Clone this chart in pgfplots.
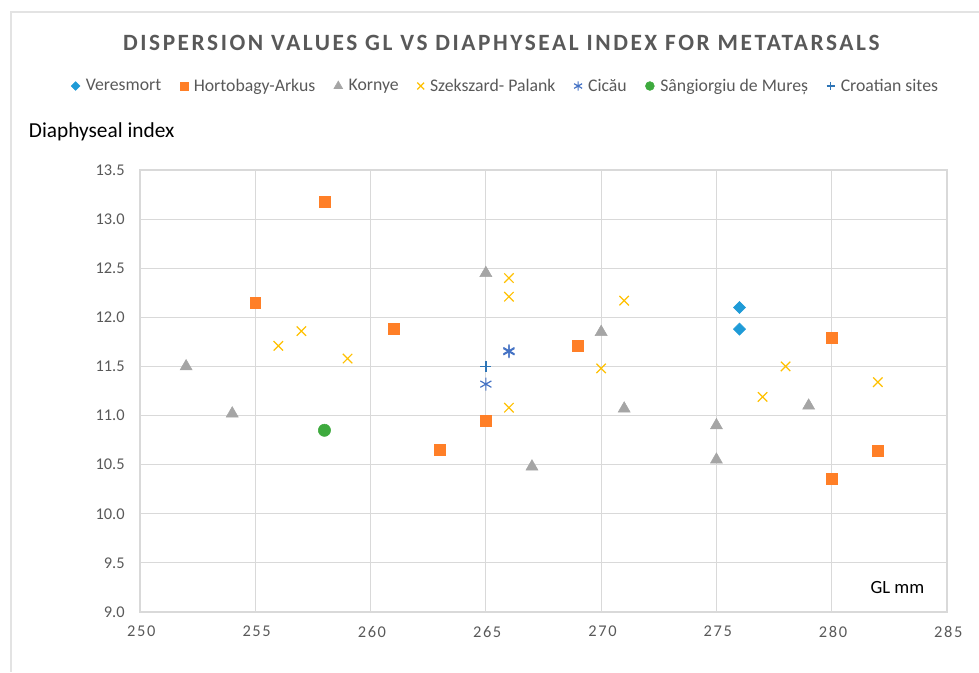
\documentclass[border=0pt]{standalone}
\usepackage{pgfplots}
\pgfplotsset{compat=1.18}
\usepackage{fontspec}
\setmainfont{Carlito}
\definecolor{cVer}{HTML}{1F9BD7}
\definecolor{cHor}{HTML}{FF7F27}
\definecolor{cKor}{HTML}{A5A5A5}
\definecolor{cSze}{HTML}{FFC000}
\definecolor{cCic}{HTML}{4472C4}
\definecolor{cSan}{HTML}{3EAA3E}
\definecolor{cCro}{HTML}{2E75B6}
\definecolor{gridc}{HTML}{D9D9D9}
\definecolor{framec}{HTML}{E3E3E3}
\definecolor{txt}{HTML}{595959}
\begin{document}
\begin{tikzpicture}
\path[use as bounding box] (0,0) rectangle (734.25pt,504pt);
\draw[framec, line width=0.8pt] (8.25pt,0pt) -- (8.25pt,495pt) -- (734.25pt,495pt);
\begin{axis}[
  at={(105pt,45pt)}, anchor=south west,
  scale only axis, width=605.25pt, height=331.5pt,
  xmin=250, xmax=285, ymin=9, ymax=13.5,
  xtick={250,255,...,285}, ytick={9,9.5,...,13.5},
  grid=major, major grid style={gridc, line width=0.8pt},
  axis line style={gridc, line width=0.8pt},
  tick style={draw=none},
  tick label style={font=\fontsize{12.3}{14}\selectfont, text=txt},
  /pgf/number format/assume math mode=true,
  yticklabel style={xshift=-8pt, /pgf/number format/.cd, fixed, fixed zerofill, precision=1},
  xticklabel style={yshift=-7pt, xshift=1pt, font=\fontsize{12.3}{14}\selectfont\addfontfeatures{LetterSpace=10}, /pgf/number format/.cd, fixed, precision=0},
  legend style={at={(0.4535,1.19)}, anchor=center, draw=none, fill=none,
    font=\fontsize{13.3}{15}\selectfont\color{txt}, legend columns=7,
    /tikz/every even column/.append style={column sep=12pt},
    /tikz/every odd column/.append style={column sep=2.5pt}},
  legend cell align=left,
  legend image code/.code={\draw[#1, /tikz/every mark/.append style={scale=0.72}] plot coordinates {(0.12cm,0cm)};},
  clip=false,
]
\addplot[only marks, mark=square*, mark options={rotate=45}, mark size=3.2pt, color=cVer] coordinates {(276,12.10) (276,11.88)};
\addlegendentry{Veresmort}
\addplot[only marks, mark=square*, mark size=4.1pt, color=cHor] coordinates {
(255,12.15) (258,13.18) (261,11.88) (263,10.65) (265,10.95) (269,11.71) (280,11.79) (280,10.36) (282,10.64)};
\addlegendentry{Hortobagy-Arkus}
\addplot[only marks, mark=triangle*, mark size=5.2pt, color=cKor] coordinates {
(252,11.50) (254,11.02) (265,12.45) (267,10.48) (270,11.85) (271,11.07) (275,10.90) (275,10.55) (279,11.10)};
\addlegendentry{Kornye}
\addplot[only marks, mark=x, mark size=5pt, color=cSze, line width=0.9pt] coordinates {
(256,11.71) (257,11.86) (259,11.58) (266,12.40) (266,12.21) (266,11.08) (270,11.48) (271,12.17) (277,11.19) (278,11.50) (282,11.34)};
\addlegendentry{Szekszard- Palank}
\addplot[only marks, mark=asterisk, mark size=4.8pt, color=cCic, line width=0.9pt] coordinates {(266,11.65) (266,11.66) (265,11.32)};
\addlegendentry{Cicău}
\addplot[only marks, mark=*, mark size=4.6pt, color=cSan] coordinates {(258,10.85)};
\addlegendentry{Sângiorgiu de Mureș}
\addplot[only marks, mark=+, mark size=4.2pt, color=cCro, line width=1pt] coordinates {(265,11.50)};
\addlegendentry{Croatian sites}
\end{axis}
\node[anchor=center, text=txt, font=\fontsize{17.5}{20}\selectfont\bfseries\addfontfeatures{LetterSpace=11}] at (376pt,471.75pt) {DISPERSION VALUES GL VS DIAPHYSEAL INDEX FOR METATARSALS};
\node[anchor=west, inner sep=0pt, font=\fontsize{16}{18}\selectfont] at (21.5pt,405pt) {Diaphyseal index};
\node[anchor=center, inner sep=0pt, font=\fontsize{14}{16}\selectfont] at (673pt,63.5pt) {GL mm};
\end{tikzpicture}
\end{document}
